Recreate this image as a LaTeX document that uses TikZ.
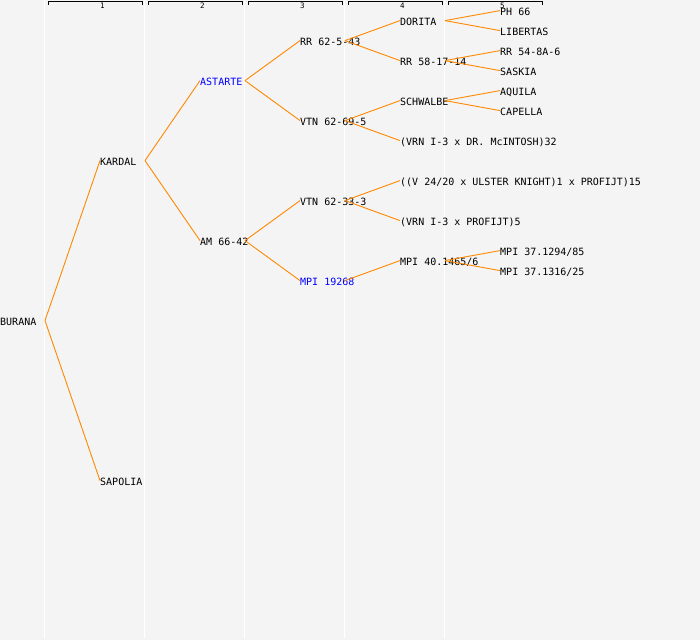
\documentclass[tikz,border=0pt]{standalone}
\usepackage{fontspec}
\setmonofont{DejaVu Sans Mono}
\usetikzlibrary{calc}
\definecolor{pedline}{RGB}{255,136,0}
\definecolor{pedbg}{RGB}{244,244,244}
\definecolor{pedblue}{RGB}{0,0,255}

\begin{document}
\begin{tikzpicture}[x=1pt,y=-1pt,
  plant/.style={inner sep=0pt,anchor=west,text height=10pt,text depth=0pt,yshift=1.4pt,font=\ttfamily\fontsize{10}{12}\selectfont},
  marked/.style={plant,text=pedblue},
  link/.style={draw=pedline,line width=0.9pt},
  gen/.style={inner sep=0pt,anchor=west,font=\ttfamily\fontsize{7.5}{8}\selectfont}]

\fill[pedbg] (0,0) rectangle (700,640);
\useasboundingbox (0,0) rectangle (700,640);

% columns and generation numbers
\foreach \c in {1,...,5}{
  \draw[white,line width=1.3pt] (\c*100-55.5,0) -- (\c*100-55.5,638);
  \draw[line width=1pt] (\c*100-52,4.5) -- (\c*100-52,1.5) -- (\c*100+42.5,1.5) -- (\c*100+42.5,4.5);
  \draw node[gen] at (\c*100,6) (gen\c){\c};
}

% plants
\draw node[plant] at (0,322) (burana){BURANA};
\draw node[plant] at (100,162) (kardal){KARDAL};
\draw node[plant] at (100,482) (sapolia){SAPOLIA};
\draw node[marked] at (200,82) (astarte){ASTARTE};
\draw node[plant] at (200,242) (am){AM 66-42};
\draw node[plant] at (300,42) (rrsix){RR 62-5-43};
\draw node[plant] at (300,122) (vtnone){VTN 62-69-5};
\draw node[plant] at (300,202) (vtntwo){VTN 62-33-3};
\draw node[marked] at (300,282) (mpi){MPI 19268};
\draw node[plant] at (400,22) (dorita){DORITA};
\draw node[plant] at (400,62) (rrfive){RR 58-17-14};
\draw node[plant] at (400,102) (schwalbe){SCHWALBE};
\draw node[plant] at (400,142) (vrnmc){(VRN I-3 x DR. McINTOSH)32};
\draw node[plant] at (400,182) (ulster){((V 24/20 x ULSTER KNIGHT)1 x PROFIJT)15};
\draw node[plant] at (400,222) (vrnpro){(VRN I-3 x PROFIJT)5};
\draw node[plant] at (400,262) (mpifour){MPI 40.1465/6};
\draw node[plant] at (500,12) (ph){PH 66};
\draw node[plant] at (500,32) (libertas){LIBERTAS};
\draw node[plant] at (500,52) (rrfour){RR 54-8A-6};
\draw node[plant] at (500,72) (saskia){SASKIA};
\draw node[plant] at (500,92) (aquila){AQUILA};
\draw node[plant] at (500,112) (capella){CAPELLA};
\draw node[plant] at (500,252) (mpia){MPI 37.1294/85};
\draw node[plant] at (500,272) (mpib){MPI 37.1316/25};

% parent links
\draw[link] ($ (burana.west)+(45,0) $) -- (kardal.west);
\draw[link] ($ (burana.west)+(45,0) $) -- (sapolia.west);
\draw[link] ($ (kardal.west)+(45,0) $) -- (astarte.west);
\draw[link] ($ (kardal.west)+(45,0) $) -- (am.west);
\draw[link] ($ (astarte.west)+(45,0) $) -- (rrsix.west);
\draw[link] ($ (astarte.west)+(45,0) $) -- (vtnone.west);
\draw[link] ($ (am.west)+(45,0) $) -- (vtntwo.west);
\draw[link] ($ (am.west)+(45,0) $) -- (mpi.west);
\draw[link] ($ (rrsix.west)+(45,0) $) -- (dorita.west);
\draw[link] ($ (rrsix.west)+(45,0) $) -- (rrfive.west);
\draw[link] ($ (vtnone.west)+(45,0) $) -- (schwalbe.west);
\draw[link] ($ (vtnone.west)+(45,0) $) -- (vrnmc.west);
\draw[link] ($ (vtntwo.west)+(45,0) $) -- (ulster.west);
\draw[link] ($ (vtntwo.west)+(45,0) $) -- (vrnpro.west);
\draw[link] ($ (mpi.west)+(45,0) $) -- (mpifour.west);
\draw[link] ($ (dorita.west)+(45,0) $) -- (ph.west);
\draw[link] ($ (dorita.west)+(45,0) $) -- (libertas.west);
\draw[link] ($ (rrfive.west)+(45,0) $) -- (rrfour.west);
\draw[link] ($ (rrfive.west)+(45,0) $) -- (saskia.west);
\draw[link] ($ (schwalbe.west)+(45,0) $) -- (aquila.west);
\draw[link] ($ (schwalbe.west)+(45,0) $) -- (capella.west);
\draw[link] ($ (mpifour.west)+(45,0) $) -- (mpia.west);
\draw[link] ($ (mpifour.west)+(45,0) $) -- (mpib.west);

\end{tikzpicture}
\end{document}
